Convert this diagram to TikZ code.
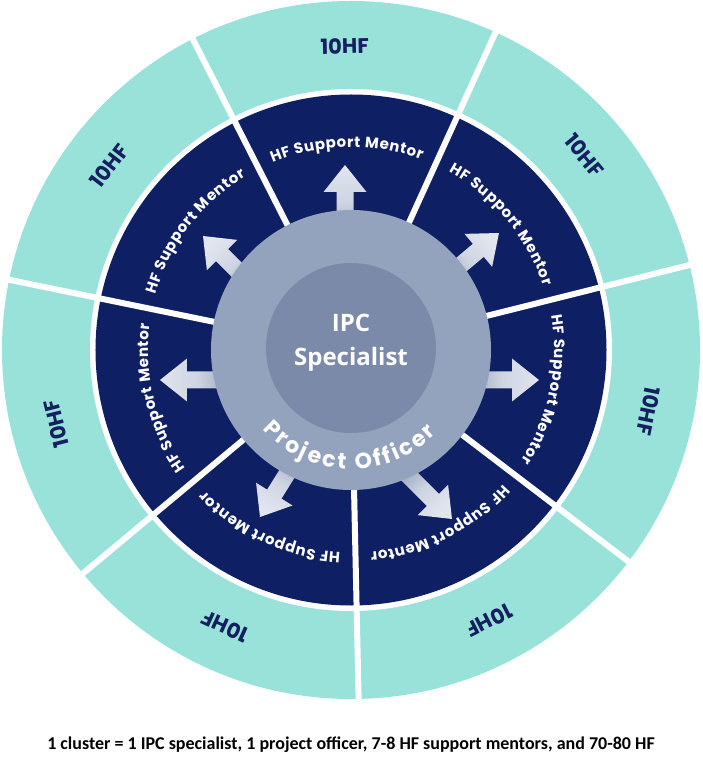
\documentclass[tikz,border=0pt]{standalone}
\usepackage{fontspec}
\setmainfont{Open Sans}
\newfontfamily\ringfont{Poppins}
\newfontfamily\notefont{Carlito}
\usetikzlibrary{decorations.text}

\definecolor{hfteal}{HTML}{98E2DA}
\definecolor{mentornavy}{HTML}{0F1F63}
\definecolor{officergray}{HTML}{94A3BD}
\definecolor{ipcgray}{HTML}{7A8AA8}
\definecolor{arrowlight}{HTML}{E1E5EE}
\definecolor{labelnavy}{HTML}{14205F}

\begin{document}
\begin{tikzpicture}[x=1pt,y=1pt,
  gap/.style={white,line width=6pt},
  hf label/.style={text=labelnavy,font=\ringfont\bfseries\fontsize{21}{21}\selectfont},
  mentor arrow/.style={bottom color=officergray,top color=arrowlight,middle color=arrowlight!75!officergray}]
  \useasboundingbox (-351,-418) rectangle (351,350);
  \fill[hfteal] (0,0) circle[radius=349];
  \fill[white] (0,0) circle[radius=261];
  \fill[mentornavy] (0,0) circle[radius=255.5];
  \foreach \k in {0,...,6}
    \draw[gap] ({14.1+51.43*\k}:130) -- ({14.1+51.43*\k}:354);
  \foreach \tx/\ty/\d in {-6/185/90, 148/117/40, -148/114/135, -191/-30/180,
                          188/-30/0, -91/-167/238, 101/-169/-45} {
    \pgfmathsetmacro\sa{\d-90}
    \shade[mentor arrow,shading angle=\sa,shift={(\tx,\ty)},rotate=\d]
      (0,0) -- (-27,21.5) -- (-27,8.5) -- (-75,8.5) -- (-75,-8.5) -- (-27,-8.5) -- (-27,-21.5) -- cycle;
  }
  \fill[officergray] (0,0) circle[radius=140];
  \fill[ipcgray] (0,2) circle[radius=85];
  \node[align=center,text=white,font=\bfseries\fontsize{24}{34}\selectfont] (ipc) at (0,7) {IPC\\Specialist};
  \path[decorate,decoration={text along path,text align=fit to path,text color=white,
      text={|\ringfont\bfseries\fontsize{22}{22}\selectfont|Project Officer}}]
    (222:119) arc[start angle=222,end angle=316,radius=119];
  \foreach \c [count=\k] in {39.8,91.2,142.7,194.1,245.5,297.0,348.4} {
    \path[decorate,decoration={text along path,text align=fit to path,text color=white,
        text={|\ringfont\bfseries\fontsize{15}{15}\selectfont|HF Support Mentor}}]
      ({\c+21.5}:203) arc[start angle=\c+21.5,end angle=\c-21.5,radius=203];
    \node[hf label,rotate=\c-90] (hf\k) at (\c:304) {10HF};
  }
  \node[font=\notefont\bfseries\fontsize{18}{18}\selectfont] (note) at (0,-395)
    {1 cluster = 1 IPC specialist, 1 project officer, 7-8 HF support mentors, and 70-80 HF};
\end{tikzpicture}
\end{document}
